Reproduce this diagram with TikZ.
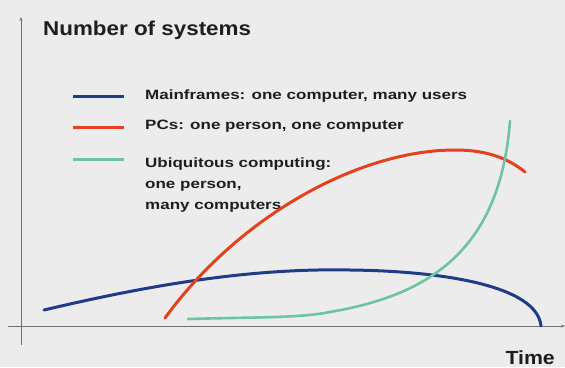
\documentclass[tikz,border=0pt]{standalone}
\usepackage{fontspec}
\setmainfont{Liberation Sans}
\usetikzlibrary{arrows.meta}
\definecolor{bgcol}{HTML}{ECECEC}
\definecolor{axiscol}{HTML}{707070}
\definecolor{mainblue}{HTML}{1F3C88}
\definecolor{pcred}{HTML}{E2431E}
\definecolor{ubigreen}{HTML}{6DC3A2}
\definecolor{txtcol}{HTML}{1E1E1E}
% wide bold lettering
\newcommand{\widetext}[2]{\scalebox{#1}[1]{#2}}
\tikzset{
  axis/.style={draw=axiscol, line width=0.9pt},
  curve/.style={line width=3pt, line cap=round},
  legtext/.style={anchor=base west, inner sep=0pt, text=txtcol, font=\bfseries\fontsize{13.5}{16}\selectfont},
  legline/.style={line width=3pt},
}
\begin{document}
\begin{tikzpicture}[x=1pt,y=-1pt]
  % background and fixed frame
  \fill[bgcol] (0,0) rectangle (565,367);
  \useasboundingbox (0,0) rectangle (565,367);

  % axes
  \coordinate (ytop) at (21,17);
  \coordinate (ybot) at (21,345);
  \coordinate (xleft) at (8,326);
  \coordinate (xright) at (565,326);
  \draw[axis, -{Stealth[length=4pt,width=3pt]}] (ybot) -- (ytop);
  \draw[axis, -{Stealth[length=4pt,width=3pt]}] (xleft) -- (xright);

  \node[anchor=base west, inner sep=0pt, text=txtcol, font=\bfseries\fontsize{20}{24}\selectfont] (ylabel) at (43,35) {\widetext{1.12}{Number of systems}};
  \node[anchor=base east, inner sep=0pt, text=txtcol, font=\bfseries\fontsize{19}{22}\selectfont] (xlabel) at (555,364) {\widetext{1.12}{Time}};

  % legend
  \coordinate (lb1) at (73,96);  \coordinate (lb2) at (124,96);
  \coordinate (lr1) at (73,127); \coordinate (lr2) at (124,127);
  \coordinate (lg1) at (73,159); \coordinate (lg2) at (124,159);
  \draw[legline, mainblue] (lb1) -- (lb2);
  \draw[legline, pcred] (lr1) -- (lr2);
  \draw[legline, ubigreen] (lg1) -- (lg2);
  \node[legtext] (tb) at (145,99) {\widetext{1.26}{Mainframes: one computer, many users}};
  \node[legtext] (tr) at (145,129) {\widetext{1.26}{PCs: one person, one computer}};
  \node[legtext] (tg1) at (145,167) {\widetext{1.26}{Ubiquitous computing:}};
  \node[legtext] (tg2) at (145,188) {\widetext{1.26}{one person,}};
  \node[legtext] (tg3) at (145,209) {\widetext{1.26}{many computers}};

  % mainframes
  \draw[curve, mainblue] (44,310) .. controls (150,285) and (250,268) .. (350,270)
        .. controls (440,271) and (537,285) .. (541,326);
  % personal computers
  \draw[curve, pcred] (165,318) .. controls (240,215) and (360,150) .. (455,150)
        .. controls (490,150) and (510,160) .. (525,172);
  % ubiquitous computing
  \draw[curve, ubigreen, line width=2.6pt] (188,319) .. controls (260,317) and (300,318) .. (330,312)
        .. controls (430,295) and (500,250) .. (510,121);
\end{tikzpicture}
\end{document}
